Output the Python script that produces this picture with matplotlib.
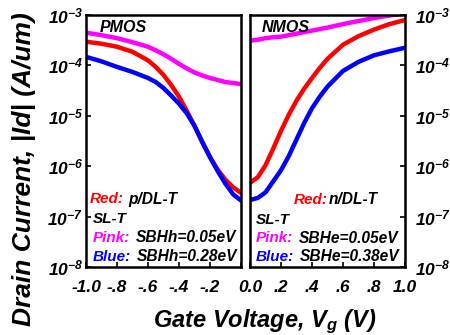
import numpy as np
import matplotlib
matplotlib.use("Agg")
import matplotlib.pyplot as plt
from matplotlib.ticker import FixedLocator, FixedFormatter, NullLocator

#%% Fonts
plt.rcParams['font.family'] = ['Liberation Sans', 'DejaVu Sans']
plt.rcParams['mathtext.fontset'] = 'custom'
plt.rcParams['mathtext.rm'] = 'Liberation Sans:italic:bold'
plt.rcParams['mathtext.it'] = 'Liberation Sans:italic:bold'
plt.rcParams['mathtext.bf'] = 'Liberation Sans:italic:bold'

#%% Data (log10 of |Id| in A/um)
vg_p = [-1.0, -0.9, -0.8, -0.7, -0.6, -0.55, -0.5, -0.45, -0.4, -0.35,
        -0.3, -0.25, -0.2, -0.15, -0.1, -0.05, 0.0]
logid_p_red = [-3.53, -3.57, -3.63, -3.73, -3.90, -4.03, -4.19, -4.39, -4.62, -4.90,
               -5.20, -5.52, -5.82, -6.07, -6.27, -6.42, -6.53]
logid_p_blue = [-3.83, -3.92, -4.03, -4.13, -4.25, -4.33, -4.45, -4.60, -4.76, -4.95,
                -5.20, -5.52, -5.82, -6.10, -6.35, -6.56, -6.68]
logid_p_pink = [-3.35, -3.40, -3.46, -3.54, -3.63, -3.70, -3.78, -3.87, -3.97, -4.06,
                -4.14, -4.20, -4.25, -4.29, -4.33, -4.35, -4.37]

vg_n = [0.0, 0.05, 0.1, 0.15, 0.2, 0.25, 0.3, 0.35, 0.4, 0.45,
        0.5, 0.6, 0.7, 0.8, 0.9, 1.0]
logid_n_red = [-6.33, -6.22, -5.98, -5.65, -5.30, -4.98, -4.70, -4.46, -4.25, -4.05,
               -3.87, -3.59, -3.42, -3.29, -3.18, -3.10]
logid_n_blue = [-6.67, -6.63, -6.52, -6.30, -6.08, -5.80, -5.47, -5.14, -4.85, -4.62,
                -4.42, -4.11, -3.93, -3.80, -3.72, -3.65]
logid_n_pink = [-3.51, -3.49, -3.46, -3.44, -3.43, -3.40, -3.37, -3.34, -3.31, -3.28,
                -3.25, -3.18, -3.12, -3.06, -3.01, -2.97]

ytick_vals = [1e-8, 1e-7, 1e-6, 1e-5, 1e-4, 1e-3]
ytick_labels = [r'$10^{-8}$', r'$10^{-7}$', r'$10^{-6}$', r'$10^{-5}$', r'$10^{-4}$', r'$10^{-3}$']
xtick_p = [-1.0, -0.8, -0.6, -0.4, -0.2, 0.0]
xlab_p = ['-1.0', '-.8', '-.6', '-.4', '-.2', '']
xtick_n = [0.0, 0.2, 0.4, 0.6, 0.8, 1.0]
xlab_n = ['0.0', '.2', '.4', '.6', '.8', '1.0']

RED, BLUE, PINK = '#ff0000', '#0000ff', '#ff00ff'

#%% Figure
fig = plt.figure(figsize=(4.5, 3.35), dpi=100)
ax_p = fig.add_axes([86/450, 68/335, 155/450, 252/335])
ax_n = fig.add_axes([250/450, 68/335, 155/450, 252/335])

lw = 3.2
ax_p.plot(vg_p, 10**np.array(logid_p_pink), color=PINK, lw=lw)
ax_p.plot(vg_p, 10**np.array(logid_p_red), color=RED, lw=lw)
ax_p.plot(vg_p, 10**np.array(logid_p_blue), color=BLUE, lw=lw)

ax_n.plot(vg_n, 10**np.array(logid_n_pink), color=PINK, lw=lw)
ax_n.plot(vg_n, 10**np.array(logid_n_red), color=RED, lw=lw)
ax_n.plot(vg_n, 10**np.array(logid_n_blue), color=BLUE, lw=lw)

for ax in (ax_p, ax_n):
    ax.set_yscale('log')
    ax.set_ylim(1e-8, 1e-3)
    ax.yaxis.set_minor_locator(NullLocator())
    for sp in ax.spines.values():
        sp.set_linewidth(1.8)
    ax.tick_params(direction='in', length=3.5, width=1.2)

ax_p.set_xlim(-1.0, 0.0)
ax_n.set_xlim(0.0, 1.0)

ax_p.xaxis.set_major_locator(FixedLocator(xtick_p))
ax_p.xaxis.set_major_formatter(FixedFormatter(xlab_p))
ax_n.xaxis.set_major_locator(FixedLocator(xtick_n))
ax_n.xaxis.set_major_formatter(FixedFormatter(xlab_n))

ax_p.yaxis.set_major_locator(FixedLocator(ytick_vals))
ax_p.yaxis.set_major_formatter(FixedFormatter(ytick_labels))
ax_n.yaxis.set_major_locator(FixedLocator(ytick_vals))
ax_n.yaxis.set_major_formatter(FixedFormatter(ytick_labels))

ax_p.tick_params(axis='y', left=True, right=False, labelleft=True, pad=2, labelsize=12.5)
ax_n.tick_params(axis='y', left=False, right=True, labelleft=False, labelright=True, pad=7, labelsize=12.5)
for ax in (ax_p, ax_n):
    ax.tick_params(axis='x', pad=9, labelsize=12.5)
    for lab in ax.get_xticklabels():
        lab.set_fontweight('bold')
        lab.set_fontstyle('italic')

#%% Annotations
txt = dict(fontstyle='italic', fontweight='bold', va='center', ha='left')
ax_p.text(0.09, 0.950, 'PMOS', transform=ax_p.transAxes, fontsize=11.5, **txt)
ax_n.text(0.077, 0.950, 'NMOS', transform=ax_n.transAxes, fontsize=11.5, **txt)

legend_p = [(0.022, 0.269, 'Red:', RED, 0.272, 'p/DL-T'),
            (0.043, 0.189, 'SL-T', 'black', None, None),
            (0.045, 0.116, 'Pink:', PINK, 0.322, 'SBHh=0.05eV'),
            (0.043, 0.041, 'Blue:', BLUE, 0.326, 'SBHh=0.28eV')]
legend_n = [(0.279, 0.266, 'Red:', RED, 0.51, 'n/DL-T'),
            (0.039, 0.187, 'SL-T', 'black', None, None),
            (0.034, 0.115, 'Pink:', PINK, 0.316, 'SBHe=0.05eV'),
            (0.039, 0.040, 'Blue:', BLUE, 0.323, 'SBHe=0.38eV')]
for ax, items in ((ax_p, legend_p), (ax_n, legend_n)):
    for x0, y0, lab, col, x1, desc in items:
        ax.text(x0, y0, lab, color=col, transform=ax.transAxes, fontsize=11, **txt)
        if desc:
            ax.text(x1, y0, desc, color='black', transform=ax.transAxes, fontsize=11.2, **txt)

fig.text(24/450, 0.496, 'Drain Current, |Id| (A/um)', rotation=90, ha='center', va='center',
         fontsize=19, fontweight='bold', fontstyle='italic')
fig.text(265/450, 0.025, r'Gate Voltage, $V_g$ (V)', ha='center', va='baseline',
         fontsize=17, fontweight='bold', fontstyle='italic')

fig.savefig('out.png', dpi=100)
